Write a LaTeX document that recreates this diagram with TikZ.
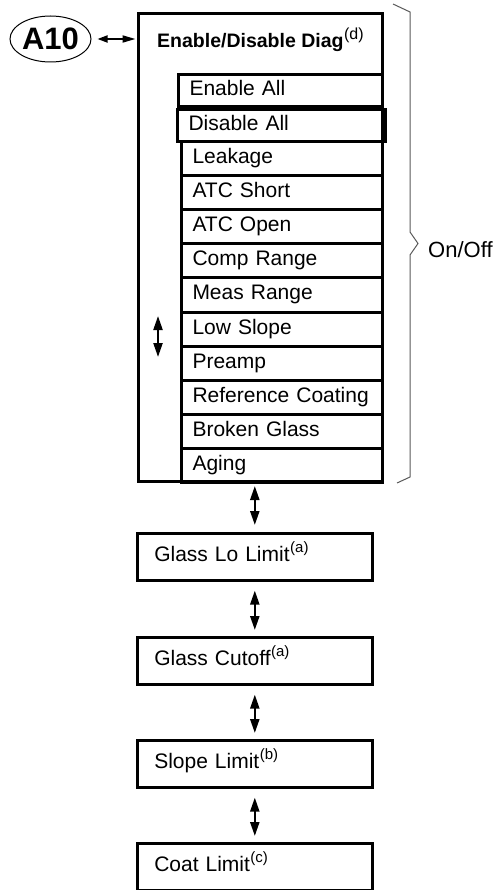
\documentclass[tikz,border=0pt]{standalone}
\usepackage{fontspec}
\setmainfont{Liberation Sans}
\usepackage{tikz}
\usetikzlibrary{shapes.geometric, arrows.meta}
\newcommand{\fnref}[2][15]{\kern0.5pt\raisebox{0.42em}{\mdseries\fontsize{#1}{#1}\selectfont(#2)}}
\tikzset{
    item/.style={draw, line width=3pt, anchor=north west, minimum height=34.1pt, text width=179pt, inner xsep=11pt, inner ysep=0pt, text height=15pt, text depth=5pt, font=\fontsize{21}{24}\selectfont},
    limitbox/.style={draw, line width=2.6pt, anchor=north west, minimum height=47pt, text width=201pt, inner xsep=17pt, inner ysep=0pt, text height=15pt, text depth=6pt, font=\fontsize{21}{24}\selectfont},
    dblarrow/.style={{Triangle[length=14pt,width=9pt]}-{Triangle[length=14pt,width=9pt]}, line width=2.2pt},
    smallarrow/.style={{Triangle[length=10pt,width=7pt]}-{Triangle[length=13pt,width=7pt]}, line width=1.8pt}
}

\begin{document}
\begin{tikzpicture}[x=1pt, y=-1pt]
                    \useasboundingbox (0,0) rectangle (499,890);
                    \node[ellipse, draw, line width=1pt, minimum width=81pt, minimum height=46pt, inner sep=0pt, font=\fontsize{31}{34}\selectfont\bfseries] (a10) at (50.5,39) {A10};
                    \node[draw, line width=3pt, anchor=north west, minimum width=244pt, minimum height=468pt, inner sep=0pt] (diag) at (137,12) {};
                    \node[anchor=base west, inner sep=0pt, font=\fontsize{19.5}{22}\selectfont\bfseries] (diagtitle) at (157,48) {Enable/Disable Diag\fnref[16]{d}};
                    \draw[smallarrow, shorten <=6pt, shorten >=1.5pt] (a10.east) -- (a10.east -| diag.west);
                    \node[item, minimum height=32pt, text width=182pt] (enableall) at (177,73) {Enable All};
                    \node[item, minimum height=32pt, text width=186pt] (disableall) at (176,108) {Disable All};
                    \node[item] (leakage) at (180,140) {Leakage};
                    \node[item] (atcshort) at (180,174.1) {ATC Short};
                    \node[item] (atcopen) at (180,208.2) {ATC Open};
                    \node[item] (comprange) at (180,242.3) {Comp Range};
                    \node[item] (measrange) at (180,276.4) {Meas Range};
                    \node[item] (lowslope) at (180,310.5) {Low Slope};
                    \node[item] (preamp) at (180,344.6) {Preamp};
                    \node[item] (refcoat) at (180,378.7) {Reference Coating};
                    \node[item] (broken) at (180,412.8) {Broken Glass};
                    \node[item] (aging) at (180,446.9) {Aging};
                    \coordinate (scrolltop) at (158,316);
                    \coordinate (scrollbot) at (158,357);
                    \draw[dblarrow] (scrolltop) -- (scrollbot);
                    \draw[gray!70!black, line width=1pt] (393,4) -- (410,12) -- (410,232) -- (418,243.5) -- (410,255) -- (410,477) -- (397,483);
                    \node[anchor=west, inner sep=0pt, font=\fontsize{22}{24}\selectfont] (onoff) at (428,250) {On/Off};
                    \node[limitbox] (glasslo) at (136,532) {Glass Lo Limit\fnref{a}};
                    \node[limitbox] (glasscut) at (136,636) {Glass Cutoff\fnref{a}};
                    \node[limitbox] (slopelim) at (136,739) {Slope Limit\fnref{b}};
                    \node[limitbox] (coatlim) at (136,842) {Coat Limit\fnref{c}};
                    \draw[dblarrow, shorten <=3pt, shorten >=7pt] (glasslo.north |- diag.south) -- (glasslo.north);
                    \draw[dblarrow, shorten <=9pt, shorten >=6pt] (glasslo.south) -- (glasscut.north);
                    \draw[dblarrow, shorten <=9pt, shorten >=6pt] (glasscut.south) -- (slopelim.north);
                    \draw[dblarrow, shorten <=9pt, shorten >=6pt] (slopelim.south) -- (coatlim.north);
                \end{tikzpicture}
\end{document}
